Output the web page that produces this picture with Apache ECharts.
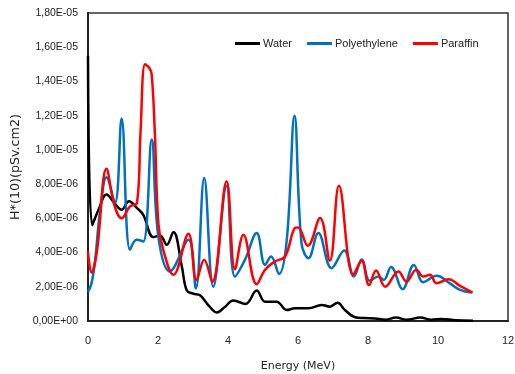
<!DOCTYPE html>
<html><head><meta charset="utf-8">
<script src="https://cdn.jsdelivr.net/npm/echarts@6/dist/echarts.min.js"></script>
<style>html,body{margin:0;padding:0;background:#fff}#c{width:515px;height:374px}</style>
</head><body><div id="c"></div>
<script>
// Energy (MeV) and H*(10) values in units of 1e-6 pSv.cm2
const waterE = [0, 0.12, 0.3, 0.53, 0.75, 0.96, 1.17, 1.4, 1.58, 1.87, 2.06, 2.25, 2.44, 2.68, 2.82, 3.0, 3.2, 3.45, 3.68, 3.9, 4.15, 4.5, 4.82, 5.06, 5.39, 5.68, 5.91, 6.3, 6.68, 6.91, 7.13, 7.34, 7.63, 7.9, 8.2, 8.5, 8.8, 9.1, 9.5, 9.8, 10.1, 10.5, 11];
const waterH = [15.5, 5.6, 6.5, 7.4, 6.9, 6.5, 7.0, 6.6, 6.2, 4.9, 5.0, 4.45, 5.2, 3.2, 1.8, 1.6, 1.5, 0.9, 0.5, 0.8, 1.2, 1.0, 1.78, 1.13, 1.13, 0.64, 0.74, 0.74, 0.94, 0.84, 1.07, 0.64, 0.22, 0.17, 0.15, 0.08, 0.2, 0.08, 0.2, 0.08, 0.12, 0.05, 0.02];
const polyE = [0, 0.1, 0.2, 0.35, 0.53, 0.77, 0.96, 1.2, 1.39, 1.58, 1.82, 2.01, 2.34, 2.87, 3.08, 3.32, 3.58, 3.96, 4.2, 4.49, 4.82, 5.06, 5.23, 5.46, 5.68, 5.9, 6.1, 6.3, 6.58, 6.96, 7.32, 7.6, 7.82, 8.05, 8.3, 8.45, 8.66, 8.99, 9.31, 9.58, 9.96, 10.34, 10.63, 10.96];
const polyH = [1.7, 2.2, 3.5, 6.5, 8.4, 6.9, 11.84, 4.16, 4.75, 4.65, 10.6, 4.94, 2.9, 4.75, 1.9, 8.36, 2.0, 7.9, 2.6, 3.6, 5.14, 3.28, 3.77, 2.75, 4.75, 12.0, 4.55, 3.67, 5.14, 3.09, 4.12, 2.6, 3.6, 2.35, 2.6, 2.4, 3.15, 1.86, 3.28, 2.27, 2.64, 2.2, 1.82, 1.66];
const paraE = [0, 0.1, 0.25, 0.53, 0.75, 0.96, 1.2, 1.4, 1.5, 1.63, 1.75, 1.82, 1.91, 2.01, 2.15, 2.44, 2.87, 3.1, 3.32, 3.55, 3.96, 4.2, 4.44, 4.82, 5.06, 5.34, 5.63, 5.91, 6.0, 6.28, 6.63, 6.91, 7.17, 7.58, 7.82, 8.03, 8.23, 8.49, 8.87, 9.1, 9.38, 9.58, 9.77, 9.96, 10.3, 10.63, 10.99];
const paraH = [4.06, 2.83, 4.0, 8.9, 6.8, 6.0, 6.7, 6.9, 11.0, 15.0, 14.8, 14.4, 11.0, 5.7, 4.16, 2.7, 5.1, 2.4, 3.58, 2.3, 8.17, 3.03, 5.04, 2.15, 3.0, 3.48, 3.77, 5.43, 5.47, 4.4, 6.02, 3.53, 7.9, 2.7, 3.52, 2.1, 2.95, 2.0, 2.9, 2.3, 3.0, 2.6, 2.7, 2.2, 2.44, 2.05, 1.66];
const seriesNames = ['Water', 'Polyethylene', 'Paraffin'];
const xTicks = [0, 2, 4, 6, 8, 10, 12];

const pairs = (xs, ys) => xs.map((x, i) => [x, ys[i]]);
function fmtY(v) {
  if (v === 0) return '0,00E+00';
  const s = (v * 1e-6).toExponential(2); // e.g. 1.80e-5
  const [m, e] = s.split('e');
  const n = parseInt(e, 10);
  const es = (n < 0 ? '-' : '+') + String(Math.abs(n)).padStart(2, '0');
  return m.replace('.', ',') + 'E' + es;
}
const FONT = "'Liberation Sans', Arial, sans-serif";
const WIDE = "'DejaVu Sans', Verdana, sans-serif";
const chart = echarts.init(document.getElementById('c'), null, {renderer: 'canvas'});
chart.setOption({
  animation: false,
  backgroundColor: '#fff',
  grid: {left: 88, right: 7, top: 13, bottom: 53, show: true, borderColor: '#333', borderWidth: 1.5,
         containLabel: false, outerBoundsMode: 'none'},
  legend: {
    data: seriesNames, left: 230, top: 33, icon: 'rect', itemWidth: 25, itemHeight: 3, itemGap: 15,
    textStyle: {fontFamily: FONT, fontSize: 11, color: '#222', padding: [0, 0, 0, -2]}
  },
  xAxis: {
    type: 'value', min: xTicks[0], max: xTicks[xTicks.length - 1], interval: 2,
    name: 'Energy (MeV)', nameLocation: 'middle', nameGap: 40,
    nameTextStyle: {fontFamily: WIDE, fontSize: 11, color: '#222'},
    axisLine: {show: true, lineStyle: {color: '#222', width: 2}},
    axisTick: {show: false}, splitLine: {show: false},
    axisLabel: {fontFamily: FONT, fontSize: 11, color: '#222', margin: 14}
  },
  yAxis: {
    type: 'value', min: 0, max: 18, interval: 2,
    name: 'H*(10)(pSv.cm2)', nameLocation: 'middle', nameGap: 60,
    nameTextStyle: {fontFamily: WIDE, fontSize: 12.7, color: '#222'},
    axisLine: {show: true, lineStyle: {color: '#222', width: 2}},
    axisTick: {show: false}, splitLine: {show: false},
    axisLabel: {fontFamily: FONT, fontSize: 10.5, color: '#222', margin: 10, formatter: fmtY}
  },
  series: [
    {name: seriesNames[0], type: 'line', smooth: 0.4, showSymbol: false, data: pairs(waterE, waterH),
     lineStyle: {color: '#000', width: 2.5}, itemStyle: {color: '#000'}, z: 3},
    {name: seriesNames[1], type: 'line', smooth: 0.4, showSymbol: false, data: pairs(polyE, polyH),
     lineStyle: {color: '#0070C0', width: 2.5}, itemStyle: {color: '#0070C0'}, z: 4},
    {name: seriesNames[2], type: 'line', smooth: 0.4, showSymbol: false, data: pairs(paraE, paraH),
     lineStyle: {color: '#FF0000', width: 2.5}, itemStyle: {color: '#FF0000'}, z: 5}
  ]
});
</script></body></html>
